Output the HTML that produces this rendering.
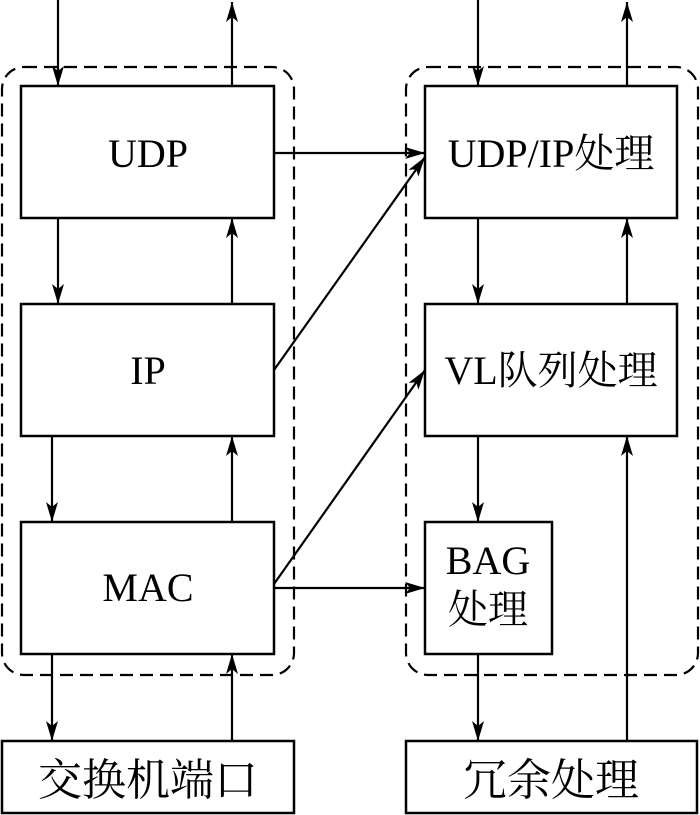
<!DOCTYPE html>
<html><head><meta charset="utf-8"><style>html,body{margin:0;padding:0;background:#fff}svg{display:block}</style></head><body>
<svg width="700" height="815" viewBox="0 0 700 815" xmlns="http://www.w3.org/2000/svg">
<defs>
<marker id="b" viewBox="0 0 20 12" refX="20" refY="6" markerWidth="20" markerHeight="12" markerUnits="userSpaceOnUse" orient="auto"><path d="M0,0 L20,6 L0,12 L5,6 z" fill="#000"/></marker></defs>
<g fill="none" stroke="#000" stroke-width="2.2" stroke-dasharray="13,7">
<rect x="2" y="67" width="292" height="608" rx="22"/>
<rect x="406" y="67" width="292" height="608" rx="22"/>
</g>
<g fill="#fff" stroke="#000" stroke-width="2.5">
<rect x="21" y="86" width="253" height="132"/>
<rect x="21" y="304" width="253" height="132"/>
<rect x="21" y="522" width="253" height="132"/>
<rect x="2" y="741" width="292" height="72"/>
<rect x="425" y="86" width="252" height="132"/>
<rect x="425" y="304" width="252" height="132"/>
<rect x="425" y="522" width="127" height="132"/>
<rect x="406" y="741" width="291" height="72"/>
</g>
<g stroke="#000" stroke-width="2.2" fill="none" marker-end="url(#b)">
<path d="M58 0 V86"/><path d="M232 86 V2"/>
<path d="M58 218 V304"/><path d="M232 304 V218"/>
<path d="M52 436 V522"/><path d="M232 522 V436"/>
<path d="M52 654 V741"/><path d="M232 741 V654"/>
<path d="M478 0 V86"/><path d="M627 86 V2"/>
<path d="M478 218 V304"/><path d="M627 304 V218"/>
<path d="M478 436 V522"/><path d="M627 741 V436"/>
<path d="M478 654 V741"/>
<path d="M274 153 H425"/>
<path d="M274 370 L425 157"/>
<path d="M274 584 L425 370"/>
<path d="M274 588 H425"/>
</g>
<g font-family="'Liberation Serif','Noto Serif CJK SC',serif" font-size="40" text-anchor="middle" fill="#000">
<text x="148" y="167">UDP</text>
<text x="148" y="384">IP</text>
<text x="148" y="601">MAC</text>
<text x="148" y="795" font-size="44">交换机端口</text>
<text x="551" y="167">UDP/IP处理</text>
<text x="551" y="384">VL队列处理</text>
<text x="488" y="574">BAG</text>
<text x="488" y="623">处理</text>
<text x="551" y="795" font-size="44">冗余处理</text>
</g>
</svg>
</body></html>
